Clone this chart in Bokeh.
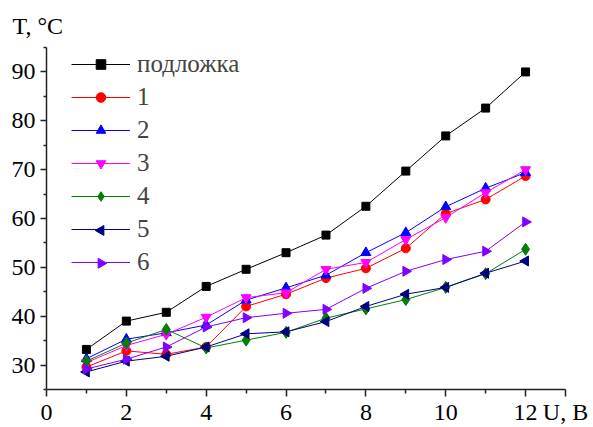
import math
from bokeh.plotting import figure
from bokeh.models import FixedTicker, Legend, LegendItem, Range1d, Title
from bokeh.embed import file_html
from bokeh.resources import INLINE

U = [1, 2, 3, 4, 5, 6, 7, 8, 9, 10, 11, 12]
t_sub = [33.2, 39.0, 40.8, 46.1, 49.6, 53.0, 56.6, 62.5, 69.7, 76.9, 82.6, 90.0]
t_1 = [29.6, 32.9, 32.2, 33.7, 42.0, 44.5, 47.8, 49.8, 53.9, 61.0, 63.9, 68.7]
t_2 = [31.3, 35.3, 36.6, 38.2, 43.3, 45.8, 48.4, 53.0, 57.1, 62.4, 66.2, 69.4]
t_3 = [30.5, 34.0, 36.3, 39.8, 43.8, 44.8, 49.6, 51.0, 55.7, 60.2, 65.3, 70.0]
t_4 = [30.8, 34.5, 37.3, 33.5, 35.1, 36.7, 39.6, 41.5, 43.4, 45.9, 48.7, 53.7]
t_5 = [28.6, 30.8, 31.8, 33.7, 36.4, 36.8, 38.9, 42.0, 44.5, 45.9, 48.8, 51.3]
t_6 = [29.2, 31.2, 33.7, 37.8, 39.7, 40.6, 41.4, 45.7, 49.2, 51.6, 53.3, 59.3]
labels = ["подложка", "1", "2", "3", "4", "5", "6"]
x_major = [0, 2, 4, 6, 8, 10, 12, 13]
x_minor = [1, 3, 5, 7, 9, 11]
y_major = [30, 40, 50, 60, 70, 80, 90]
y_minor = [25, 35, 45, 55, 65, 75, 85, 95]
x_caption = "U, В"
y_caption = "T, °C"

series = [t_sub, t_1, t_2, t_3, t_4, t_5, t_6]
colors = ["#000000", "#ff0000", "#0000ff", "#ff00ff", "#008000", "#000080", "#8000ff"]
markers = [("square", 0, 8), ("circle", 0, 9), ("triangle", 0, 10), ("inverted_triangle", 0, 10),
           ("diamond", 0, 12), ("triangle", math.pi / 2, 10), ("triangle", -math.pi / 2, 10)]

FONT = "'Liberation Serif'"

# layout constants (pixels)
W, H = 593, 427
BL, BR, BT, BB = 46, 28, 47, 36
X0, X1, Y0, Y1 = 0, 13, 25, 95
FW, FH = W - BL - BR, H - BT - BB

p = figure(width=W, height=H, output_backend="svg", toolbar_location=None,
           x_range=Range1d(X0, X1), y_range=Range1d(Y0, Y1),
           min_border_left=BL, min_border_right=BR, min_border_top=BT, min_border_bottom=BB)
p.outline_line_color = None
p.grid.visible = False
p.background_fill_color = "white"

p.xaxis.ticker = FixedTicker(ticks=x_major, minor_ticks=x_minor)
p.yaxis.ticker = FixedTicker(ticks=y_major, minor_ticks=y_minor)
p.xaxis.major_label_overrides = {13: x_caption}

for ax in (p.xaxis[0], p.yaxis[0]):
    ax.axis_line_color = "#222222"
    ax.axis_line_width = 1.5
    ax.major_tick_line_color = "#222222"
    ax.minor_tick_line_color = "#222222"
    ax.major_tick_line_width = 1.5
    ax.minor_tick_line_width = 1.5
    ax.major_tick_in = 0
    ax.minor_tick_in = 0
    ax.major_label_text_font = FONT
    ax.major_label_text_font_size = "24px"
    ax.major_label_text_color = "#000000"

p.xaxis.major_tick_out = 7
p.xaxis.minor_tick_out = 4
p.xaxis.major_label_standoff = 2
p.yaxis.major_tick_out = 6
p.yaxis.minor_tick_out = 3
p.yaxis.major_label_standoff = 5

# y caption as plot title (outside the frame, not clipped)
p.title = Title(text=y_caption, align="left", vertical_align="middle", offset=12 - BL,
                standoff=16, text_font=FONT, text_font_size="24px",
                text_font_style="normal", text_color="#000000")

# legend geometry
LG_X, LG_TOP, GW, GH, LH, SP = 25, 52, 59, 24, 28, 5

items = []
extra = []
for i, (ys, c, (m, ang, sz), lab) in enumerate(zip(series, colors, markers, labels)):
    r1 = p.line(U, ys, line_color=c, line_width=1)
    r2 = p.scatter(U, ys, marker=m, angle=ang, size=sz, fill_color=c, line_color=c)
    if ang == 0:
        items.append(LegendItem(label=lab, renderers=[r1, r2]))
    else:
        items.append(LegendItem(label=lab, renderers=[r1]))
        extra.append((i, m, ang, sz, c))

n = len(items)
legend_h = n * LH + (n - 1) * SP
legend = Legend(items=items, location=(LG_X, FH - (LG_TOP - BT) - legend_h), orientation="vertical",
                glyph_width=GW, glyph_height=GH, label_height=LH, spacing=SP,
                label_standoff=7, padding=0, margin=0,
                label_text_font=FONT, label_text_font_size="25px",
                border_line_color=None, background_fill_alpha=0)
p.add_layout(legend, "center")

# rotated legend keys (bokeh does not rotate legend glyphs)
for i, m, ang, sz, c in extra:
    cx = (LG_X + GW / 2) / FW * (X1 - X0) + X0
    cy_px = LG_TOP + i * (LH + SP) + LH / 2
    cy = Y0 + (BT + FH - cy_px) / FH * (Y1 - Y0)
    p.scatter([cx], [cy], marker=m, angle=ang, size=sz, fill_color=c, line_color=c)

open("out.html", "w").write(file_html(p, INLINE))
